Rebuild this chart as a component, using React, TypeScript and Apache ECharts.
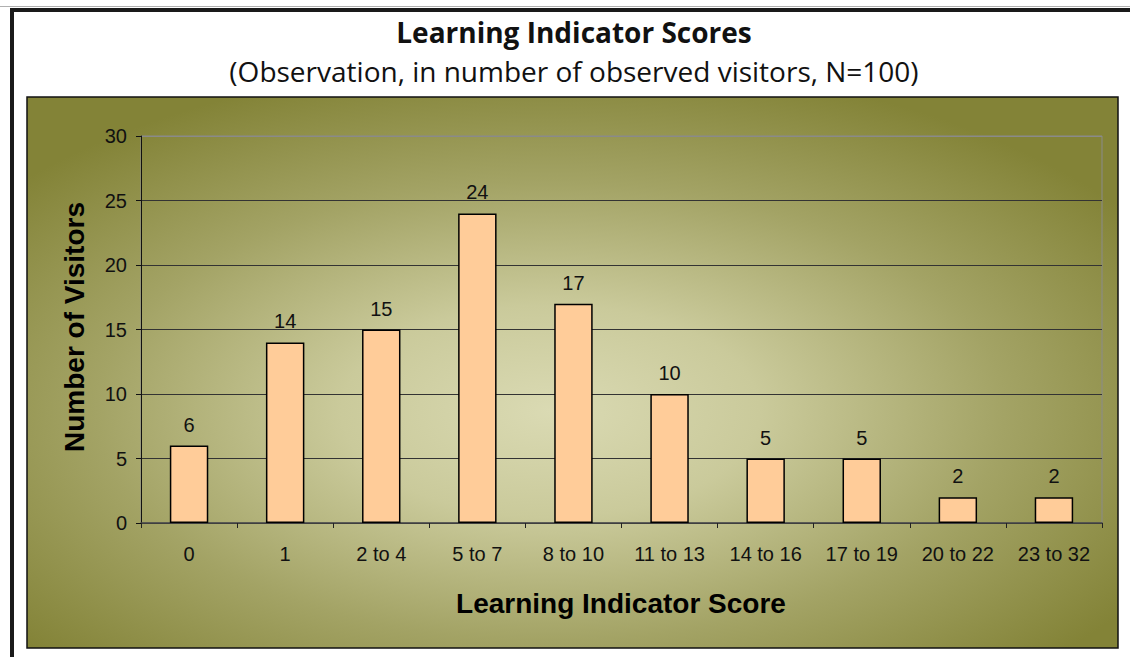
import React, { useEffect, useRef } from "react";
import * as echarts from "echarts";

const categories = ["0", "1", "2 to 4", "5 to 7", "8 to 10", "11 to 13", "14 to 16", "17 to 19", "20 to 22", "23 to 32"];
const visitors = [6, 14, 15, 24, 17, 10, 5, 5, 2, 2];
const titleText = "Learning Indicator Scores";
const subtitleText = "(Observation, in number of observed visitors, N=100)";
const xName = "Learning Indicator Score";
const yName = "Number of Visitors";

const ARIAL = 'Arial, "Liberation Sans", sans-serif';
const TITLE_FONT = '"Open Sans", "Noto Sans", sans-serif';

export default function App() {
  const ref = useRef<HTMLDivElement>(null);
  useEffect(() => {
    if (!ref.current) return;
    const chart = echarts.init(ref.current, null, { renderer: "svg" });
    const boxX = 27, boxY = 97, boxW = 1091, boxH = 551;
    const sx = 1.75;
    chart.setOption({
      animation: false,
      backgroundColor: "#ffffff",
      graphic: [
        { type: "rect", z: -5, shape: { x: 0, y: 6, width: 1130, height: 1 }, style: { fill: "#b0b0b0" } },
        { type: "rect", z: -5, shape: { x: 10, y: 8, width: 1120, height: 4 }, style: { fill: "#1a1a1a" } },
        { type: "rect", z: -5, shape: { x: 10, y: 8, width: 4, height: 649 }, style: { fill: "#1a1a1a" } },
        {
          type: "group", x: boxX, y: boxY, scaleX: sx, z: -4,
          children: [
            {
              type: "rect", z: -4,
              shape: { x: 0, y: 0, width: boxW / sx, height: boxH },
              style: {
                fill: new echarts.graphic.RadialGradient(0.48, 0.57, 0.64, [
                  { offset: 0, color: "#DADAB3" },
                  { offset: 0.3, color: "#CACA9B" },
                  { offset: 0.65, color: "#A3A365" },
                  { offset: 1, color: "#838337" },
                ]),
              },
            },
          ],
        },
        { type: "rect", z: -3, shape: { x: boxX, y: boxY, width: boxW, height: boxH }, style: { fill: "none", stroke: "#111", lineWidth: 1.5 } },
        {
          type: "text", x: 574, y: 32, z: 5,
          style: { text: titleText, fill: "#111", font: `bold 28px ${TITLE_FONT}`, align: "center", verticalAlign: "middle" },
        },
        {
          type: "text", x: 574, y: 71, z: 5,
          style: { text: subtitleText, fill: "#111", font: `28px ${TITLE_FONT}`, align: "center", verticalAlign: "middle" },
        },
        {
          type: "text", x: 621, y: 603, z: 5,
          style: { text: xName, fill: "#000", font: `bold 28px ${ARIAL}`, align: "center", verticalAlign: "middle" },
        },
        {
          type: "text", x: 74, y: 327, rotation: Math.PI / 2, z: 5,
          style: { text: yName, fill: "#000", font: `bold 28px ${ARIAL}`, align: "center", verticalAlign: "middle" },
        },
      ],
      grid: {
        left: 141, right: 28, top: 136, bottom: 134,
        show: true, borderColor: "#8a8a8a", borderWidth: 1, backgroundColor: "transparent",
      },
      xAxis: {
        type: "category",
        data: categories,
        boundaryGap: true,
        axisLine: { lineStyle: { color: "#444", width: 1.5 } },
        axisTick: { show: true, alignWithLabel: false, length: 5, lineStyle: { color: "#222" } },
        axisLabel: { color: "#111", fontSize: 20, fontFamily: ARIAL, margin: 21, interval: 0 },
      },
      yAxis: {
        type: "value",
        min: 0, max: 30, interval: 5,
        axisLine: { show: true, lineStyle: { color: "#111", width: 1 } },
        axisTick: { show: true, length: 5, lineStyle: { color: "#111" } },
        axisLabel: { color: "#111", fontSize: 20, fontFamily: ARIAL, margin: 14 },
        splitLine: {
          show: true,
          lineStyle: { color: ["#333", "#333", "#333", "#333", "#333", "#333", "#8a8a8a"], width: 1 },
        },
      },
      series: [
        {
          type: "bar",
          data: visitors,
          barWidth: "40%",
          itemStyle: { color: "#FFCC99", borderColor: "#000", borderWidth: 1.5 },
          label: { show: true, position: "top", distance: 11, color: "#111", fontSize: 20, fontFamily: ARIAL },
        },
      ],
    });
    return () => chart.dispose();
  }, []);
  return (
    <div
      ref={ref}
      style={{ position: "fixed", left: 0, top: 0, width: 1130, height: 657, background: "#fff" }}
    />
  );
}
